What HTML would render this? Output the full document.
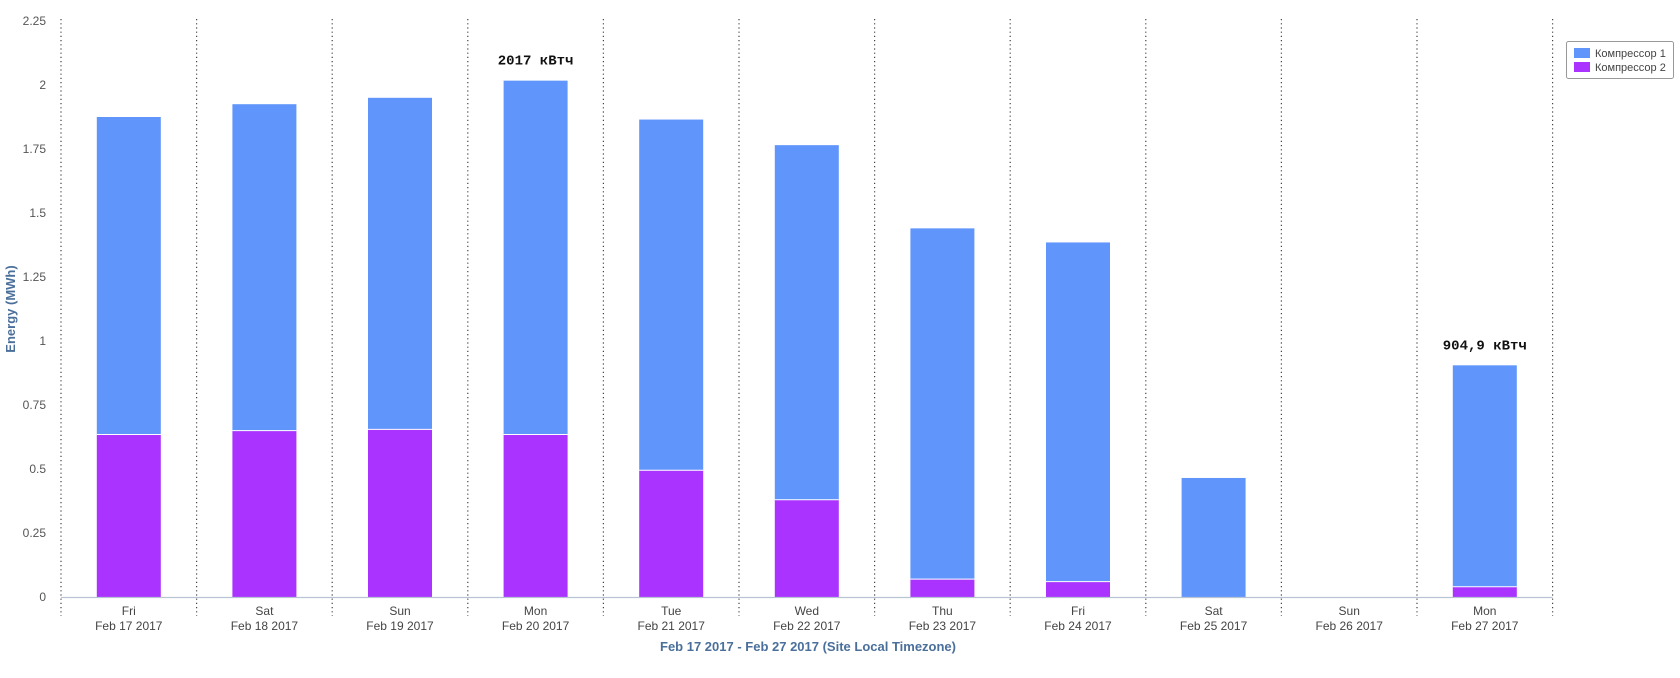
<!DOCTYPE html>
<html><head><meta charset="utf-8"><style>
body{margin:0;background:#fff;width:1680px;height:673px;overflow:hidden}
svg text{font-family:"Liberation Sans","DejaVu Sans",sans-serif}
</style></head><body>
<svg id="chart" width="1680" height="673" xmlns="http://www.w3.org/2000/svg"></svg>
<script>
const days=["Fri","Sat","Sun","Mon","Tue","Wed","Thu","Fri","Sat","Sun","Mon"];
const dates=["Feb 17 2017","Feb 18 2017","Feb 19 2017","Feb 20 2017","Feb 21 2017","Feb 22 2017","Feb 23 2017","Feb 24 2017","Feb 25 2017","Feb 26 2017","Feb 27 2017"];
const comp2=[0.635,0.65,0.655,0.635,0.495,0.38,0.07,0.06,0,0,0.04];
const comp1=[1.24,1.275,1.295,1.382,1.37,1.385,1.37,1.325,0.465,0,0.865];
const yTicks=[0,0.25,0.5,0.75,1,1.25,1.5,1.75,2,2.25];
const annotations=[{i:3,text:"2017 кВтч"},{i:10,text:"904,9 кВтч"}];
const svg=document.getElementById('chart');
const NS="http://www.w3.org/2000/svg";
const x0=61,cw=135.6,y0=597,pxPer=256;
const y=v=>y0-v*pxPer;
const cx=i=>x0+cw*(i+0.5);
function mk(tag,attrs,txt){const e=document.createElementNS(NS,tag);for(const k in attrs)e.setAttribute(k,attrs[k]);if(txt!==undefined)e.textContent=txt;svg.appendChild(e);return e;}
yTicks.forEach(t=>{const e=mk('text',{x:46,y:y(t)+4,'text-anchor':'end','font-size':12,fill:'#555'},String(t));

});
for(let i=0;i<=days.length;i++){const e=mk('line',{x1:x0+cw*i,x2:x0+cw*i,y1:19,y2:616,stroke:'#444','stroke-width':1.2,'stroke-dasharray':'1.2,3'});

}
days.forEach((d,i)=>{const w=64,bx=cx(i)-w/2;
if(comp2[i]>0){const r=mk('rect',{x:bx,y:y(comp2[i]),width:w,height:comp2[i]*pxPer,fill:'#aa33ff'});

}
if(comp1[i]>0){const r=mk('rect',{x:bx,y:y(comp2[i]+comp1[i]),width:w,height:comp1[i]*pxPer,fill:'#6096fc'});


if(comp2[i]>0){const l=mk('line',{x1:bx,x2:bx+w,y1:y(comp2[i]),y2:y(comp2[i]),stroke:'#fff','stroke-width':1});

}}
const t1=mk('text',{x:cx(i),y:615,'text-anchor':'middle','font-size':12,fill:'#444'},d);


const t2=mk('text',{x:cx(i),y:630,'text-anchor':'middle','font-size':12,fill:'#444'},dates[i]);

});
const ax=mk('line',{x1:x0,x2:x0+cw*days.length,y1:y0+0.5,y2:y0+0.5,stroke:'#b8c4d4','stroke-width':1.2});


annotations.forEach(a=>{const tot=comp1[a.i]+comp2[a.i];
const e=mk('text',{x:cx(a.i),y:y(tot)-16,'text-anchor':'middle','font-size':14,'font-weight':'bold',fill:'#111',style:'font-family:"Liberation Mono",monospace'},a.text);

});
const xt=mk('text',{x:808,y:651,'text-anchor':'middle','font-size':13,'font-weight':'bold',fill:'#4a6f9a'},"Feb 17 2017 - Feb 27 2017 (Site Local Timezone)");


const yt=mk('text',{x:15,y:309,'text-anchor':'middle','font-size':13,'font-weight':'bold',fill:'#4a6f9a',transform:'rotate(-90 15 309)'},"Energy (MWh)");


const lb=mk('rect',{x:1566.5,y:41.5,width:107,height:37,fill:'#fff',stroke:'#999','stroke-width':1,rx:2});


[["Компрессор 1","#6096fc"],["Компрессор 2","#aa33ff"]].forEach((s,k)=>{
const r=mk('rect',{x:1574,y:48+k*14,width:16,height:10,fill:s[1]});


const t=mk('text',{x:1595,y:57+k*14,'font-size':11,fill:'#444'},s[0]);

});
</script>
</body></html>
